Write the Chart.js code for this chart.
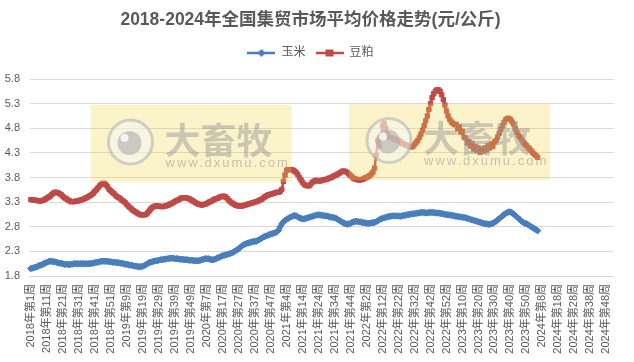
<!DOCTYPE html>
<html>
<head>
<meta charset="utf-8">
<script src="https://cdn.jsdelivr.net/npm/chart.js@4.4.1/dist/chart.umd.min.js"></script>
<style>
html,body{margin:0;padding:0;background:#fff;}
#wrap{width:634px;height:362px;}
</style>
</head>
<body>
<div id="wrap"><canvas id="c" width="634" height="362"></canvas></div>
<script>
// ---- data ----
const chartTitle = '2018-2024年全国集贸市场平均价格走势(元/公斤)';
const years = [2018, 2019, 2020, 2021, 2022, 2023, 2024];
const weeksPerYear = [52, 52, 53, 52, 52, 52, 52];
const seriesNames = ['玉米', '豆粕'];
const yTicks = [1.8, 2.3, 2.8, 3.3, 3.8, 4.3, 4.8, 5.3, 5.8];

// 玉米 (corn), weekly from 2018 week 1
const corn = [
1.95,1.96,1.97,1.98,1.99,2.01,2.02,2.03,2.05,2.06,
2.08,2.09,2.10,2.10,2.09,2.09,2.08,2.07,2.06,2.06,
2.05,2.04,2.04,2.04,2.03,2.04,2.04,2.05,2.05,2.05,
2.05,2.05,2.05,2.05,2.05,2.05,2.05,2.05,2.06,2.06,
2.07,2.08,2.08,2.09,2.10,2.10,2.10,2.10,2.10,2.09,
2.09,2.08,2.08,2.08,2.07,2.07,2.06,2.06,2.05,2.04,
2.04,2.03,2.02,2.02,2.01,2.00,2.00,1.99,1.99,1.99,
2.00,2.01,2.03,2.05,2.07,2.08,2.09,2.10,2.11,2.11,
2.12,2.13,2.13,2.14,2.14,2.15,2.15,2.16,2.16,2.16,
2.15,2.15,2.15,2.14,2.14,2.14,2.13,2.13,2.13,2.12,
2.12,2.12,2.11,2.11,2.11,2.11,2.12,2.13,2.14,2.15,
2.15,2.15,2.14,2.13,2.13,2.14,2.15,2.17,2.18,2.20,
2.21,2.22,2.23,2.24,2.25,2.26,2.27,2.29,2.31,2.33,
2.35,2.38,2.41,2.43,2.45,2.46,2.47,2.48,2.49,2.50,
2.50,2.51,2.52,2.54,2.56,2.58,2.60,2.61,2.62,2.64,
2.65,2.66,2.67,2.68,2.70,2.73,2.80,2.86,2.90,2.93,
2.95,2.97,2.99,3.00,3.02,3.03,3.02,3.00,2.98,2.97,
2.96,2.96,2.97,2.98,2.99,3.00,3.01,3.02,3.03,3.04,
3.04,3.04,3.03,3.03,3.02,3.02,3.01,3.00,2.99,2.99,
2.98,2.97,2.95,2.93,2.91,2.89,2.87,2.86,2.85,2.86,
2.87,2.89,2.90,2.91,2.91,2.90,2.90,2.89,2.88,2.88,
2.87,2.87,2.87,2.88,2.88,2.89,2.90,2.92,2.94,2.96,
2.97,2.98,2.99,3.00,3.01,3.01,3.02,3.02,3.02,3.02,
3.02,3.01,3.02,3.03,3.03,3.04,3.05,3.05,3.06,3.06,
3.07,3.07,3.08,3.08,3.09,3.09,3.09,3.08,3.08,3.09,
3.09,3.09,3.09,3.08,3.08,3.08,3.07,3.07,3.06,3.05,
3.05,3.04,3.04,3.03,3.03,3.02,3.01,3.01,3.00,3.00,
2.99,2.99,2.98,2.97,2.96,2.95,2.94,2.93,2.92,2.91,
2.90,2.89,2.88,2.87,2.86,2.86,2.85,2.85,2.86,2.87,
2.89,2.91,2.94,2.97,2.99,3.02,3.05,3.07,3.09,3.10,
3.10,3.08,3.06,3.03,3.00,2.97,2.94,2.91,2.89,2.87,
2.86,2.84,2.82,2.80,2.78,2.76,2.74,2.72
];

// 豆粕 (soybean meal), weekly from 2018 week 1
const soymeal = [
3.35,3.35,3.34,3.34,3.33,3.33,3.32,3.33,3.34,3.36,
3.38,3.40,3.42,3.45,3.48,3.50,3.50,3.49,3.47,3.45,
3.42,3.39,3.37,3.35,3.33,3.31,3.31,3.31,3.32,3.32,
3.33,3.34,3.35,3.36,3.38,3.39,3.41,3.43,3.45,3.48,
3.52,3.55,3.59,3.63,3.66,3.68,3.68,3.65,3.61,3.56,
3.53,3.50,3.47,3.44,3.41,3.39,3.37,3.34,3.32,3.29,
3.25,3.22,3.19,3.16,3.13,3.11,3.09,3.07,3.05,3.04,
3.04,3.04,3.05,3.08,3.12,3.16,3.19,3.21,3.22,3.22,
3.22,3.21,3.21,3.21,3.22,3.23,3.24,3.26,3.27,3.29,
3.31,3.33,3.34,3.36,3.38,3.39,3.39,3.39,3.38,3.37,
3.35,3.33,3.31,3.29,3.27,3.26,3.25,3.24,3.25,3.26,
3.27,3.29,3.31,3.32,3.34,3.36,3.37,3.38,3.40,3.41,
3.42,3.42,3.40,3.37,3.33,3.30,3.28,3.26,3.24,3.23,
3.22,3.22,3.22,3.23,3.24,3.25,3.26,3.27,3.28,3.29,
3.30,3.31,3.32,3.34,3.35,3.37,3.40,3.42,3.44,3.45,
3.46,3.47,3.48,3.49,3.50,3.50,3.52,3.56,3.72,3.85,
3.95,3.96,3.96,3.96,3.95,3.93,3.90,3.86,3.80,3.75,
3.70,3.66,3.64,3.63,3.63,3.66,3.70,3.72,3.74,3.74,
3.73,3.73,3.74,3.75,3.76,3.76,3.78,3.79,3.80,3.82,
3.84,3.85,3.87,3.89,3.91,3.93,3.93,3.92,3.90,3.87,
3.84,3.81,3.78,3.77,3.76,3.75,3.75,3.76,3.77,3.79,
3.80,3.82,3.84,3.87,3.91,3.99,4.25,4.55,4.45,4.62,
4.85,4.90,4.80,4.68,4.62,4.61,4.60,4.58,4.57,4.56,
4.55,4.53,4.50,4.48,4.47,4.45,4.44,4.43,4.42,4.43,
4.47,4.51,4.55,4.61,4.68,4.76,4.85,4.95,5.05,5.18,
5.30,5.42,5.50,5.55,5.58,5.58,5.55,5.48,5.38,5.27,
5.15,5.05,4.98,4.93,4.90,4.87,4.88,4.79,4.83,4.72,
4.74,4.62,4.60,4.50,4.53,4.44,4.49,4.38,4.43,4.35,
4.40,4.31,4.37,4.33,4.40,4.36,4.45,4.40,4.48,4.43,
4.52,4.55,4.62,4.70,4.78,4.85,4.92,4.97,5.00,5.00,
4.98,4.93,4.88,4.80,4.72,4.66,4.62,4.57,4.52,4.48,
4.45,4.41,4.38,4.34,4.30,4.27,4.24,4.21
];

// ---- build week labels from year/week counts ----
const weekLabels = [];
years.forEach((y, k) => {
  for (let w = 1; w <= weeksPerYear[k]; w++) weekLabels.push(y + '年第' + w + '周');
});

const FONT = "'Liberation Sans', 'Noto Sans CJK SC', sans-serif";
const TXT = '#595959';
const BLUE = '#4A7EBB';
const RED = '#BE4B48';

function legendIcon(color, shape) {
  const c = document.createElement('canvas');
  c.width = 28; c.height = 10;
  const g = c.getContext('2d');
  g.strokeStyle = color; g.lineWidth = 2.5;
  g.beginPath(); g.moveTo(0, 5); g.lineTo(28, 5); g.stroke();
  g.fillStyle = color;
  if (shape === 'diamond') {
    g.beginPath(); g.moveTo(14, 1); g.lineTo(18, 5); g.lineTo(14, 9); g.lineTo(10, 5); g.closePath(); g.fill();
  } else {
    g.fillRect(10, 1.5, 8, 7);
  }
  return c;
}
const icons = [legendIcon(BLUE, 'diamond'), legendIcon(RED, 'square')];

const legendSpacer = {
  id: 'legendSpacer',
  beforeInit(chart) {
    const lg = chart.legend;
    if (!lg) return;
    const orig = lg.fit;
    lg.fit = function () { orig.call(this); this.height += 10; };
  }
};

const watermark = {
  id: 'watermark',
  afterDatasetsDraw(chart) {
    const ctx = chart.ctx;
    const boxes = [[90.5, 105, 201, 77], [349, 103.5, 201, 76.5]];
    boxes.forEach(([x, y, w, h]) => {
      ctx.save();
      ctx.fillStyle = 'rgba(240,215,70,0.28)';
      ctx.fillRect(x, y, w, h);
      const cx = x + 40, cy = y + 37;
      ctx.beginPath(); ctx.arc(cx, cy, 22, 0, Math.PI * 2);
      ctx.fillStyle = 'rgba(245,245,245,0.55)'; ctx.fill();
      ctx.lineWidth = 3; ctx.strokeStyle = 'rgba(175,175,175,0.55)'; ctx.stroke();
      ctx.beginPath(); ctx.arc(cx - 1, cy + 1, 12, 0, Math.PI * 2);
      ctx.fillStyle = 'rgba(165,165,165,0.55)'; ctx.fill();
      ctx.beginPath(); ctx.arc(cx - 6, cy - 4, 4, 0, Math.PI * 2);
      ctx.fillStyle = 'rgba(255,255,255,0.8)'; ctx.fill();
      ctx.fillStyle = 'rgba(150,150,150,0.48)';
      ctx.textAlign = 'left'; ctx.textBaseline = 'middle';
      ctx.font = "bold 36px 'Noto Sans CJK SC'";
      ctx.fillText('大畜牧', x + 74, y + 35);
      ctx.font = "13px 'Liberation Sans'";
      try { ctx.letterSpacing = '2px'; } catch (e) {}
      ctx.fillStyle = 'rgba(150,150,150,0.55)';
      ctx.fillText('www.dxumu.com', x + 75, y + 58);
      ctx.restore();
    });
  }
};

new Chart(document.getElementById('c'), {
  type: 'line',
  data: {
    labels: weekLabels,
    datasets: [
      {
        label: seriesNames[0], data: corn,
        borderColor: BLUE, backgroundColor: BLUE, borderWidth: 2.5,
        pointStyle: 'rectRot', pointRadius: 3.2, pointBorderWidth: 1,
        pointBackgroundColor: BLUE, pointBorderColor: BLUE, tension: 0
      },
      {
        label: seriesNames[1], data: soymeal,
        borderColor: RED, backgroundColor: RED, borderWidth: 2.5,
        pointStyle: 'rect', pointRadius: 3.1, pointBorderWidth: 1,
        pointBackgroundColor: RED, pointBorderColor: RED, tension: 0
      }
    ]
  },
  options: {
    responsive: false,
    animation: false,
    events: [],
    layout: { padding: { left: 0, right: 13, top: 2, bottom: 0 } },
    plugins: {
      title: {
        display: true, text: chartTitle, color: TXT,
        font: { family: FONT, size: 17.5, weight: 'bold' },
        padding: { top: 8, bottom: 6 }
      },
      legend: {
        display: true, position: 'top',
        labels: {
          color: TXT, font: { family: FONT, size: 12 },
          usePointStyle: true, pointStyleWidth: 28, boxHeight: 10, padding: 10,
          generateLabels: (chart) => chart.data.datasets.map((ds, i) => ({
            text: ds.label, pointStyle: icons[i], fillStyle: ds.borderColor,
            strokeStyle: ds.borderColor, lineWidth: 0, datasetIndex: i, fontColor: TXT
          }))
        }
      },
      tooltip: { enabled: false }
    },
    scales: {
      x: {
        type: 'category', offset: true,
        grid: { display: false, drawTicks: false },
        border: { display: true, color: '#D9D9D9' },
        afterFit: (s) => { s.height = 86; },
        ticks: {
          autoSkip: false, minRotation: 90, maxRotation: 90, padding: 8,
          color: TXT, font: { family: FONT, size: 11 },
          callback: function (v, i) { return i % 10 === 0 ? weekLabels[i] : ''; }
        }
      },
      y: {
        min: 1.8, max: 5.8,
        grid: { color: '#D9D9D9', drawTicks: false, lineWidth: 1 },
        border: { display: false },
        afterFit: (s) => { s.width = 30; },
        ticks: {
          stepSize: 0.5, padding: 10, color: TXT,
          font: { family: FONT, size: 11 },
          callback: (v) => Number(v).toFixed(1)
        }
      }
    }
  },
  plugins: [legendSpacer, watermark]
});
</script>
</body>
</html>
